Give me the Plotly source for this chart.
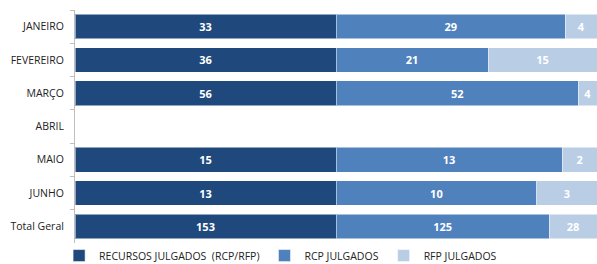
import plotly.graph_objects as go

categories = ["JANEIRO", "FEVEREIRO", "MARÇO", "ABRIL", "MAIO", "JUNHO", "Total Geral"]
recursos = [33, 36, 56, None, 15, 13, 153]
rcp = [29, 21, 52, None, 13, 10, 125]
rfp = [4, 15, 4, None, 2, 3, 28]

series = [
    ("RECURSOS JULGADOS  (RCP/RFP)", recursos, "#1F497D"),
    ("RCP JULGADOS", rcp, "#4F81BD"),
    ("RFP JULGADOS", rfp, "#B9CDE5"),
]

fig = go.Figure()
for name, vals, color in series:
    fig.add_trace(go.Bar(
        y=categories, x=vals, name=name, orientation="h",
        marker=dict(color=color, line=dict(color="rgba(255,255,255,0.5)", width=1)),
        text=[("" if v is None else str(v)) for v in vals],
        textposition="inside", insidetextanchor="middle", textangle=0,
        textfont=dict(color="white", size=11, family="Open Sans", weight="bold"),
        constraintext="none",
        width=0.74,
    ))

fig.update_layout(
    barmode="stack", barnorm="percent",
    width=597, height=264,
    margin=dict(l=75, r=0, t=10, b=21, autoexpand=False),
    plot_bgcolor="white", paper_bgcolor="rgba(0,0,0,0)",
    font=dict(family="Open Sans", size=10, color="#222"),
    showlegend=True,
    legend=dict(orientation="h", xref="container", x=0.099, xanchor="left",
                yref="container", y=0.032, yanchor="middle",
                bgcolor="rgba(0,0,0,0)",
                font=dict(size=10.5, color="#222"), traceorder="normal",
                itemwidth=30, tracegroupgap=0),
)
fig.update_xaxes(range=[0, 100], visible=False, fixedrange=True)
fig.update_yaxes(autorange="reversed", type="category", showline=True, linecolor="#BFBFBF",
                 ticks="outside", tickson="boundaries", ticklen=4, tickcolor="#BFBFBF",
                 showgrid=False, tickfont=dict(size=10.5, color="#222"), ticklabelstandoff=8,
                 fixedrange=True)

fig.write_html(
    "out.html",
    config={"displayModeBar": False},
    post_script="document.body.style.margin='0';document.body.style.overflow='hidden';",
)
